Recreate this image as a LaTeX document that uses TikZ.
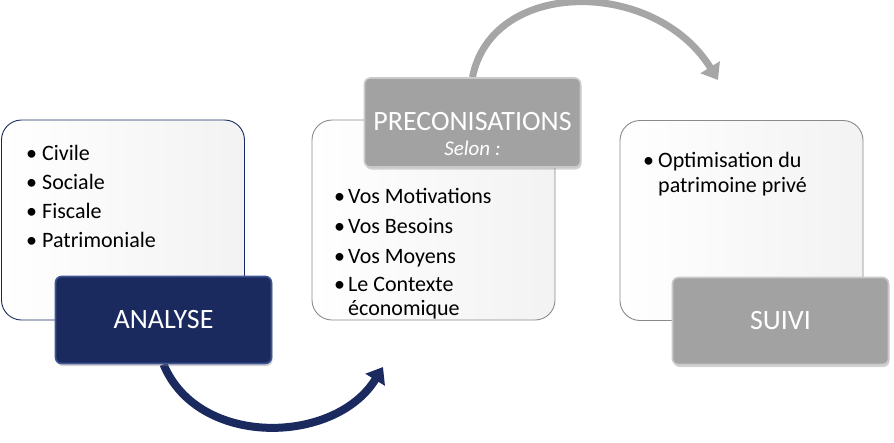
\documentclass[tikz,border=0pt]{standalone}
\usepackage{fontspec}
\setmainfont{Carlito}
\usepackage{xcolor}
\usepackage{tikz}
\usetikzlibrary{arrows.meta,positioning,shadows,backgrounds}

\definecolor{navy}{HTML}{1B2A5E}
\definecolor{navyedge}{HTML}{3E5592}
\definecolor{boxgray}{HTML}{A2A2A2}
\definecolor{grayedge}{HTML}{C9C9C9}
\definecolor{cardline}{HTML}{8A8A8A}
\definecolor{arcgray}{HTML}{A6A6A6}

\newcommand{\itm}[2][14pt]{\makebox[#1][l]{\textbullet}#2}

\begin{document}
\begin{tikzpicture}[
    x=1pt, y=-1pt,
    card/.style={rectangle, rounded corners=20pt, left color=white, right color=black!5, line width=0.9pt, minimum width=243pt, minimum height=200pt},
    stagebox/.style={rectangle, rounded corners=6pt, minimum width=216pt, minimum height=87pt, text=white, line width=1.6pt, font=\fontsize{28}{30}\selectfont, drop shadow={shadow xshift=1pt, shadow yshift=-2.5pt, opacity=.35}},
    items/.style={anchor=north west, align=left, inner sep=0pt, font=\fontsize{22}{24}\selectfont, text=black},
    swoop/.style={line width=8pt, -{Triangle[width=22pt,length=15pt]}},
]
    \useasboundingbox (0,0) rectangle (894,442);

    % cards
    \node[card, draw=navy] (cardA) at (123,220) {};
    \node[card, draw=cardline] (cardP) at (433.5,220) {};
    \node[card, draw=cardline] (cardS) at (741.5,220.5) {};

    \node[items] (listA) at (26,145) {\itm[16pt]{Civile}\\[5pt]\itm[16pt]{Sociale}\\[5pt]\itm[16pt]{Fiscale}\\[5pt]\itm[16pt]{Patrimoniale}};
    \node[items] (listP) at (334,188) {\itm{Vos Motivations}\\[6pt]\itm{Vos Besoins}\\[6pt]\itm{Vos Moyens}\\[4pt]\itm{Le Contexte}\\\hspace*{14pt}économique};
    \node[items] (listS) at (643,152.5) {\itm[15pt]{Optimisation du}\\[1pt]\hspace*{15pt}patrimoine privé};

    % stage boxes
    \node[stagebox, fill=navy, draw=navyedge] (analyse) at (163.5,320) {ANALYSE};
    \node[stagebox, fill=boxgray, draw=grayedge, align=center, minimum height=89pt] (precos) at (472.5,122.5)
        {\rule{0pt}{42pt}PRECONISATIONS\\[-5pt]{\fontsize{21}{24}\selectfont\itshape Selon :}};
    \node[stagebox, fill=boxgray, draw=grayedge] (suivi) at (780.5,321) {SUIVI};

    \coordinate (tipP) at (383,367);
    \coordinate (tipS) at (718,80);

    \begin{scope}[on background layer]
        \draw[swoop, navy] (analyse.south) .. controls (198,448) and (335,445) .. (tipP);
        \draw[swoop, arcgray, line width=7pt] (precos.north) .. controls (492,-22) and (655,-22) .. (tipS);
    \end{scope}
\end{tikzpicture}
\end{document}
